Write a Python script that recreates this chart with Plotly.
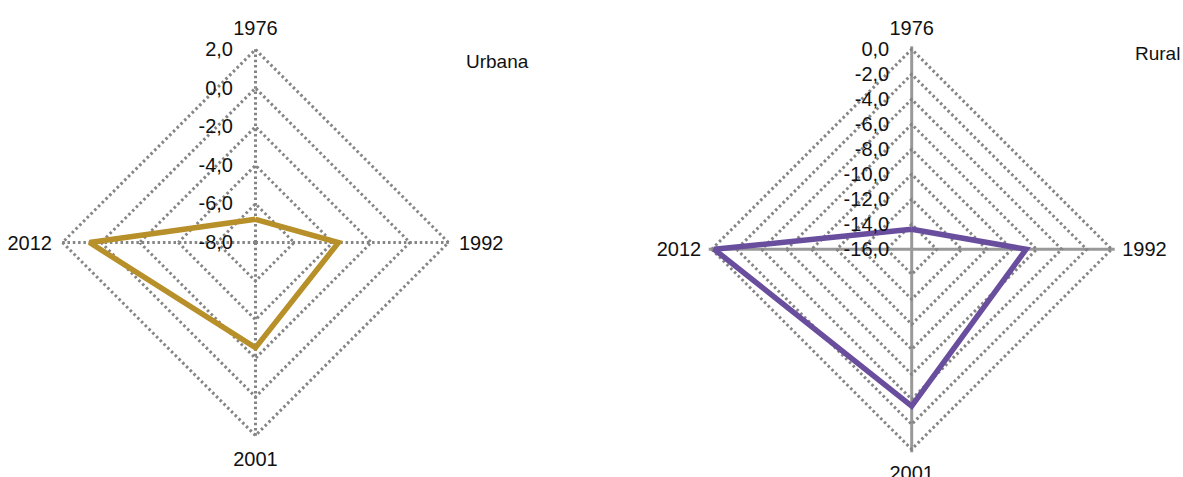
import plotly.graph_objects as go

categories = ["1976", "1992", "2001", "2012"]
urbana = [-6.8, -3.7, -2.55, 0.6]
rural = [-14.4, -6.85, -3.45, -0.2]
urbana_ticks = [-8, -6, -4, -2, 0, 2]
rural_ticks = [-16, -14, -12, -10, -8, -6, -4, -2, 0]

FONT = "Liberation Sans, Arial, sans-serif"
GOLD = "#B8902A"
PURPLE = "#6A4E9E"
GRID = "#858585"
DOT = "2.5px,2.8px"

W, H = 1183, 477
EXT_PX = 3  # tiny extension so the outermost ring is drawn as a grid line


def fmt(v):
    return f"{v:.1f}".replace(".", ",")


fig = go.Figure()
fig.add_trace(go.Scatterpolar(
    r=urbana + urbana[:1], theta=categories + categories[:1],
    mode="lines", line=dict(color=GOLD, width=5.5), subplot="polar", showlegend=False))
fig.add_trace(go.Scatterpolar(
    r=rural + rural[:1], theta=categories + categories[:1],
    mode="lines", line=dict(color=PURPLE, width=5.5), subplot="polar2", showlegend=False))


def polar_cfg(cx, cy, R, ticks, spoke_dash, spoke_width, spoke_color):
    lo, hi = min(ticks), max(ticks)
    span = hi - lo
    ext = EXT_PX * span / R
    Rd = R + EXT_PX
    return dict(
        domain=dict(x=[(cx - Rd) / W, (cx + Rd) / W],
                    y=[(H - cy - Rd) / H, (H - cy + Rd) / H]),
        gridshape="linear",
        bgcolor="rgba(0,0,0,0)",
        radialaxis=dict(
            range=[lo, hi + ext],
            tickmode="array", tickvals=ticks, ticktext=[fmt(v) for v in ticks],
            angle=90, side="counterclockwise",
            showline=False, ticks="outside", ticklen=15, tickcolor="rgba(0,0,0,0)",
            gridcolor=GRID, griddash=DOT, gridwidth=2.5,
            tickfont=dict(family=FONT, size=20, color="#111111"),
            tickangle=90,
        ),
        angularaxis=dict(
            rotation=90, direction="clockwise",
            categoryorder="array", categoryarray=categories,
            showline=False, ticks="outside", ticklen=3, tickcolor="rgba(0,0,0,0)",
            gridcolor=spoke_color, griddash=spoke_dash, gridwidth=spoke_width,
            tickfont=dict(family=FONT, size=20, color="#111111"),
        ),
    )


fig.update_layout(
    width=W, height=H,
    margin=dict(l=0, r=0, t=0, b=0),
    paper_bgcolor="white", plot_bgcolor="white",
    polar=polar_cfg(255.5, 242.5, 193, urbana_ticks, DOT, 2.5, GRID),
    polar2=polar_cfg(911.7, 249.3, 200, rural_ticks, "solid", 2.8, "#999999"),
    annotations=[
        dict(text="Urbana", x=497 / W, y=1 - 61 / H, xref="paper", yref="paper",
             xanchor="center", yanchor="middle", showarrow=False,
             font=dict(family=FONT, size=19, color="#111111")),
        dict(text="Rural", x=1157 / W, y=1 - 53 / H, xref="paper", yref="paper",
             xanchor="center", yanchor="middle", showarrow=False,
             font=dict(family=FONT, size=19, color="#111111")),
    ],
)

fig.write_html(
    "out.html",
    config={"displayModeBar": False},
    post_script="document.body.style.margin='0';document.body.style.overflow='hidden';",
)
